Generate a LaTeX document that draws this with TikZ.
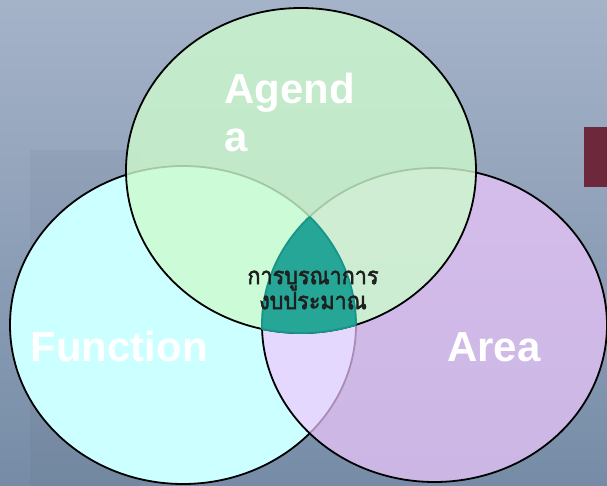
\documentclass[tikz,border=0pt]{standalone}
\usepackage{fontspec}
\setmainfont{Liberation Sans}
\newfontfamily\thaifont[Script=Thai, FakeBold=2.4, FakeStretch=0.9]{Loma}
\definecolor{bgtop}{RGB}{165,179,201}
\definecolor{bgbottom}{RGB}{118,140,166}
\definecolor{functionfill}{RGB}{204,255,255}
\definecolor{areafill}{RGB}{240,200,255}
\definecolor{agendafill}{RGB}{205,250,205}
\definecolor{corefill}{RGB}{38,166,150}
\definecolor{coreline}{RGB}{20,150,136}
\definecolor{tabred}{RGB}{110,40,60}
% the three sets
\newcommand{\agendashape}{(301,170.5) ellipse [x radius=175pt, y radius=162.5pt]}
\newcommand{\functionshape}{(183,325) ellipse [x radius=173pt, y radius=159pt]}
\newcommand{\areashape}{(434.5,325) ellipse [x radius=172.5pt, y radius=157pt]}
\begin{document}
\begin{tikzpicture}[
		x=1pt, y=-1pt,
		setline/.style={draw=black, line width=1.8pt},
		setlabel/.style={text=white, font=\bfseries\fontsize{42}{48}\selectfont, inner sep=0pt},
		corelabel/.style={text=black!88, font=\thaifont\fontsize{24}{25}\selectfont, align=center, inner sep=0pt}
		]
		\useasboundingbox (0,0) rectangle (607,486);
		% Background
		\shade[top color=bgtop, bottom color=bgbottom] (0,0) rectangle (607,486);
		\fill[black, opacity=0.03] (30,150) rectangle (140,486);
		\fill[tabred] (584,127) rectangle (607,187);
		% Sets (Function, Area, Agenda)
		\path[setline, fill=functionfill] \functionshape;
		\path[setline, fill=areafill, fill opacity=0.7] \areashape;
		\path[setline, fill=agendafill, fill opacity=0.8] \agendashape;
		% Common part of all three
		\begin{scope}
			\clip \functionshape;
			\clip \areashape;
			\fill[corefill] \agendashape;
			\draw[coreline, line width=1.8pt] \agendashape;
		\end{scope}
		\begin{scope}
			\clip \agendashape;
			\clip \areashape;
			\draw[coreline, line width=1.8pt] \functionshape;
		\end{scope}
		\begin{scope}
			\clip \agendashape;
			\clip \functionshape;
			\draw[coreline, line width=1.8pt] \areashape;
		\end{scope}
		% Labels
		\node[setlabel, anchor=north west, align=left] (agenda) at (224,73) {Agend\\a};
		\node[setlabel, anchor=base] (function) at (119,361) {Function};
		\node[setlabel, anchor=base] (area) at (494,361) {Area};
		\node[corelabel] (budget) at (313,290) {การบูรณาการ\\งบประมาณ};
	\end{tikzpicture}
\end{document}
